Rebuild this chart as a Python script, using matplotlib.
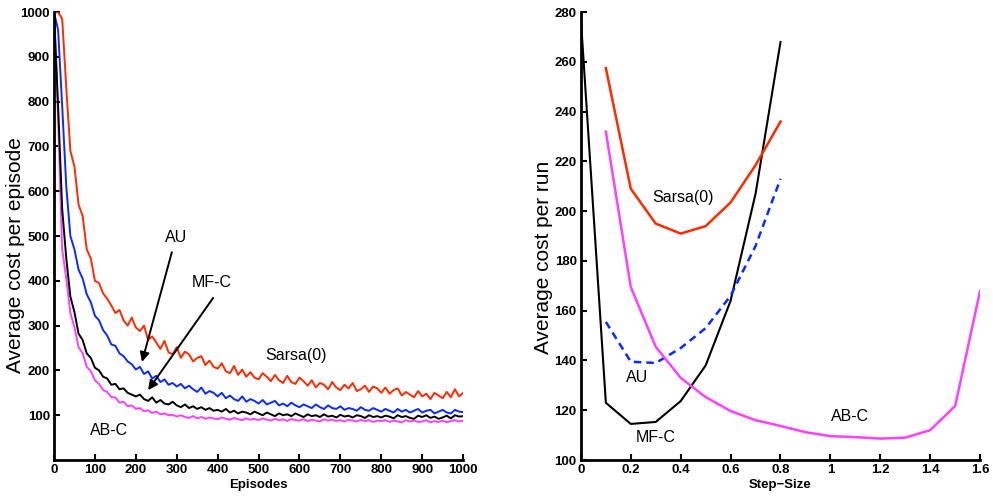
import matplotlib
matplotlib.use('Agg')
import matplotlib.pyplot as plt
from matplotlib import font_manager

# ---- left panel: cost per episode (read every 10 episodes) ----
episodes = list(range(0, 1001, 10))

sarsa_ep = [1000, 1000, 985, 830, 690, 655, 570, 545, 470, 450,
            400, 395, 372, 360, 345, 328, 335, 312, 300, 318,
            296, 288, 300, 268, 276, 262, 248, 266, 240, 236,
            252, 228, 242, 236, 220, 228, 232, 212, 222, 208,
            204, 216, 198, 194, 210, 190, 202, 186, 196, 184,
            180, 194, 186, 176, 190, 178, 172, 188, 174, 170,
            184, 176, 166, 178, 162, 172, 168, 158, 174, 162,
            156, 168, 160, 172, 154, 158, 166, 152, 164, 160,
            150, 162, 148, 156, 160, 144, 152, 146, 140, 154,
            142, 148, 136, 150, 144, 138, 152, 140, 158, 142,
            150]

au_ep = [1000, 960, 790, 610, 500, 470, 425, 405, 370, 352,
         322, 312, 290, 278, 258, 255, 238, 232, 220, 214,
         202, 208, 192, 198, 182, 188, 174, 180, 168, 172,
         164, 170, 160, 166, 158, 152, 162, 148, 154, 150,
         142, 150, 138, 144, 136, 132, 142, 130, 136, 132,
         126, 134, 124, 128, 132, 122, 126, 120, 128, 122,
         118, 124, 120, 116, 124, 118, 114, 122, 116, 114,
         120, 112, 116, 114, 110, 118, 112, 110, 116, 112,
         108, 114, 110, 106, 114, 108, 112, 106, 110, 114,
         106, 110, 112, 104, 108, 112, 106, 104, 112, 108,
         107]

mfc_ep = [1000, 790, 560, 450, 365, 330, 282, 268, 238, 228,
          206, 200, 186, 182, 168, 170, 158, 160, 150, 146,
          142, 146, 136, 132, 140, 128, 134, 126, 124, 130,
          122, 118, 124, 116, 120, 114, 118, 112, 116, 110,
          112, 108, 114, 106, 110, 104, 108, 106, 102, 108,
          104, 100, 106, 102, 98, 104, 100, 102, 98, 104,
          100, 96, 102, 98, 100, 96, 102, 97, 99, 95,
          101, 97, 99, 95, 100, 98, 94, 100, 96, 98,
          95, 99, 97, 93, 100, 96, 98, 94, 92, 99,
          96, 100, 94, 97, 92, 95, 99, 93, 100, 97,
          98]

abc_ep = [1000, 760, 470, 405, 328, 296, 252, 238, 208, 198,
          178, 170, 156, 152, 140, 140, 128, 130, 120, 122,
          114, 116, 109, 111, 105, 108, 102, 104, 100, 101,
          97, 100, 96, 94, 98, 93, 96, 92, 95, 93,
          91, 95, 92, 90, 94, 91, 89, 93, 90, 92,
          89, 93, 90, 88, 92, 89, 91, 87, 92, 89,
          88, 91, 87, 90, 88, 86, 91, 88, 90, 87,
          89, 86, 90, 88, 86, 90, 87, 89, 85, 88,
          87, 89, 85, 88, 86, 84, 89, 86, 88, 85,
          86, 89, 84, 87, 85, 88, 84, 87, 89, 86,
          88]

# ---- right panel: cost per run vs step-size ----
step_mfc = [0.0, 0.1, 0.2, 0.3, 0.4, 0.5, 0.6, 0.7, 0.8]
cost_mfc = [277, 123, 114.5, 115.3, 123.7, 138, 164, 207, 268]

step_sarsa = [0.1, 0.2, 0.3, 0.4, 0.5, 0.6, 0.7, 0.8]
cost_sarsa = [257.5, 209, 195, 191, 194, 203.5, 218.5, 236]

step_au = [0.1, 0.2, 0.3, 0.4, 0.5, 0.6, 0.7, 0.8]
cost_au = [155.5, 139.5, 139, 145, 153, 166, 186, 213]

step_abc = [0.1, 0.2, 0.3, 0.4, 0.5, 0.6, 0.7, 0.8, 0.9, 1.0, 1.1, 1.2, 1.3, 1.4, 1.5, 1.6]
cost_abc = [232, 169.5, 145.5, 133, 125.3, 119.7, 116, 113.7, 111.2, 109.6, 109.2, 108.6, 109, 112, 121.7, 168]

names = {f.name for f in font_manager.fontManager.ttflist}
fam = 'Liberation Sans Narrow' if 'Liberation Sans Narrow' in names else 'Liberation Sans'
plt.rcParams['font.family'] = [fam, 'DejaVu Sans']

RED = '#ff2a00'
BLUE = '#0a2aff'
MAG = '#ff40ff'

fig = plt.figure(figsize=(9.93, 5.01), dpi=100)
ax1 = fig.add_axes([0.0544, 0.0818, 0.412, 0.894])
ax2 = fig.add_axes([0.585, 0.0818, 0.402, 0.894])

ax1.plot(episodes, sarsa_ep, color=RED, lw=1.4)
ax1.plot(episodes, au_ep, color=BLUE, lw=1.4)
ax1.plot(episodes, abc_ep, color=MAG, lw=1.4)
ax1.plot(episodes, mfc_ep, color='black', lw=1.4)
ax1.set_xlim(0, 1000)
ax1.set_ylim(0, 1000)
ax1.set_xticks(range(0, 1001, 100))
ax1.set_yticks(range(100, 1001, 100))

lab = dict(fontsize=11.5, ha='center', va='center')
ax1.text(298, 496, 'AU', **lab)
ax1.text(386, 397, 'MF-C', **lab)
ax1.text(592, 234, 'Sarsa(0)', **lab)
ax1.text(134, 67, 'AB-C', **lab)
arr = dict(arrowstyle='-|>', color='black', lw=1.4, mutation_scale=14, shrinkA=0, shrinkB=0)
ax1.annotate('', xy=(215, 219), xytext=(288, 464), arrowprops=arr)
ax1.annotate('', xy=(230, 156), xytext=(389, 362), arrowprops=arr)
ax1.set_xlabel('Episodes', fontsize=9.5, fontweight='bold', labelpad=2)
ax1.set_ylabel('Average cost per episode', fontsize=15, family='Liberation Sans')
ax1.yaxis.set_label_coords(-0.071, 0.4576)

ax2.plot(step_mfc, cost_mfc, color='black', lw=1.5)
ax2.plot(step_sarsa, cost_sarsa, color=RED, lw=1.8)
ax2.plot(step_au, cost_au, color=BLUE, lw=1.8, linestyle=(0, (3, 2)))
ax2.plot(step_abc, cost_abc, color=MAG, lw=1.8)
ax2.set_xlim(0, 1.6)
ax2.set_ylim(100, 280)
ax2.set_xticks([0, 0.2, 0.4, 0.6, 0.8, 1.0, 1.2, 1.4, 1.6])
ax2.set_xticklabels(['0', '0.2', '0.4', '0.6', '0.8', '1', '1.2', '1.4', '1.6'])
ax2.set_yticks(range(100, 281, 20))
ax2.text(0.409, 205.7, 'Sarsa(0)', **lab)
ax2.text(0.225, 133.3, 'AU', **lab)
ax2.text(0.30, 109.2, 'MF-C', **lab)
ax2.text(1.079, 117.3, 'AB-C', **lab)
ax2.set_xlabel('Step\u2212Size', fontsize=9.5, fontweight='bold', labelpad=2)
ax2.set_ylabel('Average cost per run', fontsize=15, family='Liberation Sans')
ax2.yaxis.set_label_coords(-0.070, 0.453)

for ax in (ax1, ax2):
    for s in ('top', 'right'):
        ax.spines[s].set_visible(False)
    for s in ('left', 'bottom'):
        ax.spines[s].set_linewidth(2)
    ax.tick_params(direction='in', length=4, width=1.5, pad=3)
    for t in ax.get_xticklabels() + ax.get_yticklabels():
        t.set_fontsize(9.5)
        t.set_fontweight('bold')

fig.savefig('out.png', dpi=100)
